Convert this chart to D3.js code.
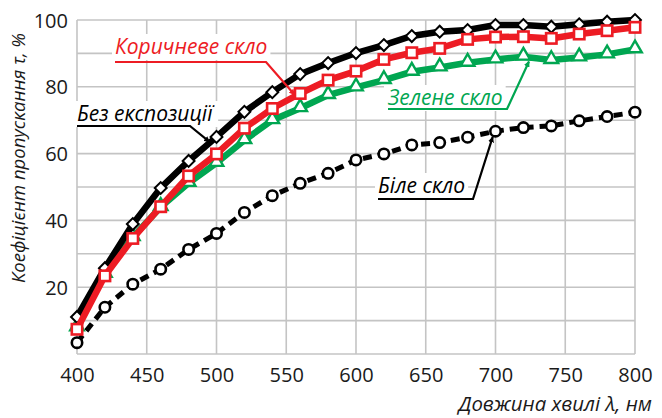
<!DOCTYPE html>
<html>
<head>
<meta charset="utf-8">
<script src="https://cdn.jsdelivr.net/npm/d3@7"></script>
<style>
  body { margin: 0; background: #fff; }
  svg { display: block; }
  text { font-family: "Open Sans", "Noto Sans", sans-serif; }
</style>
</head>
<body>
<div id="chart"></div>
<script>
// wavelengths, nm
const wavelengths = [400, 420, 440, 460, 480, 500, 520, 540, 560, 580, 600,
                     620, 640, 660, 680, 700, 720, 740, 760, 780, 800];

// transmittance, %
const noExposure = [11.1, 25.7, 38.9, 49.7, 57.8, 65.0, 72.5, 78.4, 83.8, 87.1, 90.1,
                    92.5, 95.2, 96.5, 97.0, 98.5, 98.5, 98.0, 98.7, 99.5, 100.0];
const brownGlass = [7.4, 23.4, 34.6, 44.1, 53.3, 59.9, 67.6, 73.5, 78.0, 82.0, 84.7,
                    88.2, 90.2, 91.5, 94.2, 94.9, 95.0, 94.5, 95.8, 96.8, 97.8];
const greenGlass = [8.0, 24.0, 35.0, 44.0, 51.2, 57.2, 64.0, 70.0, 73.6, 77.5, 79.8,
                    82.0, 84.5, 85.8, 87.2, 88.2, 89.0, 88.0, 88.8, 89.7, 91.2];
const whiteGlass = [3.4, 14.0, 20.9, 25.4, 31.3, 36.1, 42.4, 47.4, 51.1, 54.1, 58.1,
                    59.9, 62.6, 63.3, 64.9, 66.7, 67.8, 68.3, 69.8, 71.1, 72.4];

const xTicks = [400, 450, 500, 550, 600, 650, 700, 750, 800];
const yTicks = [20, 40, 60, 80, 100];
const yGrid = [0, 10, 20, 30, 40, 50, 60, 70, 80, 90, 100];

const RED = "#ed1c24";
const GREEN = "#00a651";

const W = 662, H = 418;
const mLeft = 77, mRight = 635, mTop = 20, mBottom = 354;

const svg = d3.select("#chart").append("svg")
    .attr("width", W)
    .attr("height", H);

const x = d3.scaleLinear().domain([400, 800]).range([mLeft, mRight]);
const y = d3.scaleLinear().domain([0, 100]).range([mBottom, mTop]);

// grid
const grid = svg.append("g").attr("stroke", "#c4c4c4").attr("stroke-width", 1.6);
grid.selectAll("line.h").data(yGrid).enter().append("line")
    .attr("x1", mLeft).attr("x2", mRight)
    .attr("y1", d => y(d)).attr("y2", d => y(d));
grid.selectAll("line.v").data(xTicks).enter().append("line")
    .attr("y1", mTop).attr("y2", mBottom)
    .attr("x1", d => x(d)).attr("x2", d => x(d));

// axes (labels only, lines drawn as grid)
const xAxis = svg.append("g")
    .attr("transform", "translate(0," + mBottom + ")")
    .call(d3.axisBottom(x).tickValues(xTicks).tickSize(0).tickPadding(14).tickFormat(d3.format("d")));
const yAxis = svg.append("g")
    .attr("transform", "translate(" + mLeft + ",0)")
    .call(d3.axisLeft(y).tickValues(yTicks).tickSize(0).tickPadding(9).tickFormat(d3.format("d")));
[xAxis, yAxis].forEach(a => {
    a.select(".domain").remove();
    a.selectAll("text")
        .style("font-family", "'Open Sans', 'Noto Sans', sans-serif")
        .style("font-size", "20px")
        .attr("fill", "#1a1a1a");
});
yAxis.selectAll("text").attr("dy", "0.35em");

// axis titles
svg.append("text")
    .attr("x", 652).attr("y", 411)
    .attr("text-anchor", "end")
    .style("font-style", "italic")
    .style("font-size", "20.4px")
    .attr("fill", "#1a1a1a")
    .text("Довжина хвилі λ, нм");

svg.append("text")
    .attr("transform", "translate(25,158) rotate(-90)")
    .attr("text-anchor", "middle")
    .style("font-style", "italic")
    .style("font-size", "18.5px")
    .attr("fill", "#1a1a1a")
    .text("Коефіцієнт пропускання τ, %");

const pts = vals => wavelengths.map((w, i) => [w, vals[i]]);
const line = d3.line().x(d => x(d[0])).y(d => y(d[1]));

// white glass: dashed, circles
svg.append("path")
    .datum(pts(whiteGlass))
    .attr("d", line)
    .attr("fill", "none")
    .attr("stroke", "#000")
    .attr("stroke-width", 5)
    .attr("stroke-dasharray", "9,6");
svg.append("g").selectAll("circle")
    .data(pts(whiteGlass)).enter().append("circle")
    .attr("cx", d => x(d[0])).attr("cy", d => y(d[1]))
    .attr("r", 5.2)
    .attr("fill", "#fff").attr("stroke", "#000").attr("stroke-width", 2.6);

// green glass: triangles
svg.append("path")
    .datum(pts(greenGlass))
    .attr("d", line)
    .attr("fill", "none")
    .attr("stroke", GREEN)
    .attr("stroke-width", 6.5);
svg.append("g").selectAll("path")
    .data(pts(greenGlass)).enter().append("path")
    .attr("d", d3.symbol().type(d3.symbolTriangle).size(80))
    .attr("transform", d => "translate(" + x(d[0]) + "," + (y(d[1]) - 1) + ")")
    .attr("fill", "#fff").attr("stroke", GREEN).attr("stroke-width", 2.4);

// no exposure: black, diamonds
svg.append("path")
    .datum(pts(noExposure))
    .attr("d", line)
    .attr("fill", "none")
    .attr("stroke", "#000")
    .attr("stroke-width", 6.5);
svg.append("g").selectAll("rect")
    .data(pts(noExposure)).enter().append("rect")
    .attr("x", -4.2).attr("y", -4.2).attr("width", 8.4).attr("height", 8.4)
    .attr("transform", d => "translate(" + x(d[0]) + "," + y(d[1]) + ") rotate(45)")
    .attr("fill", "#fff").attr("stroke", "#000").attr("stroke-width", 2);

// brown glass: red, squares
svg.append("path")
    .datum(pts(brownGlass))
    .attr("d", line)
    .attr("fill", "none")
    .attr("stroke", RED)
    .attr("stroke-width", 6.5);
svg.append("g").selectAll("rect")
    .data(pts(brownGlass)).enter().append("rect")
    .attr("x", d => x(d[0]) - 5.2).attr("y", d => y(d[1]) - 5.2)
    .attr("width", 10.4).attr("height", 10.4)
    .attr("fill", "#fff").attr("stroke", RED).attr("stroke-width", 2.6);

// annotations with leader arrows
const defs = svg.append("defs");
const arrowHead = (id, color) => {
    defs.append("marker")
        .attr("id", id)
        .attr("viewBox", "0 0 10 10")
        .attr("refX", 9).attr("refY", 5)
        .attr("markerWidth", 6).attr("markerHeight", 6)
        .attr("markerUnits", "userSpaceOnUse")
        .attr("orient", "auto")
        .append("path").attr("d", "M0,0 L10,5 L0,10 z").attr("fill", color);
};
arrowHead("arrRed", RED);
arrowHead("arrBlack", "#000");
arrowHead("arrGreen", GREEN);

const annotate = (label, color, marker, tx, ty, lineY, lineEnd, tip) => {
    const t = svg.append("text")
        .attr("x", tx).attr("y", ty)
        .style("font-style", "italic")
        .style("font-size", "21px")
        .attr("fill", color)
        .text(label);
    const bb = t.node().getBBox();
    svg.insert("rect", () => t.node())
        .attr("x", bb.x - 3).attr("y", bb.y + 2)
        .attr("width", bb.width + 6).attr("height", bb.height - 2)
        .attr("fill", "#fff");
    svg.append("path")
        .attr("d", "M" + tx + "," + lineY + " L" + lineEnd + "," + lineY + " L" + tip[0] + "," + tip[1])
        .attr("fill", "none")
        .attr("stroke", color)
        .attr("stroke-width", 2.2)
        .attr("marker-end", "url(#" + marker + ")");
};

annotate("Коричневе скло", RED, "arrRed", 115, 54, 62, 266,
         [x(556), y(77.6)]);
annotate("Без експозиції", "#000", "arrBlack", 77, 121, 126, 190,
         [x(495), y(63.5)]);
annotate("Зелене скло", GREEN, "arrGreen", 388, 105, 109, 507,
         [x(724), y(87.6)]);
annotate("Біле скло", "#000", "arrBlack", 378, 193, 199, 473,
         [x(698), y(65)]);
</script>
</body>
</html>
